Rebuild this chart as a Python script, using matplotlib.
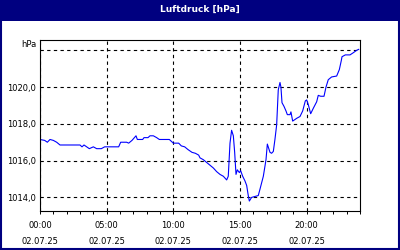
import matplotlib.pyplot as plt
from matplotlib.patches import Rectangle
from matplotlib.ticker import MultipleLocator

# Luftdruck 02.07.25 (hours since 00:00, hPa)
hours = [0.0, 0.35, 0.55, 0.75, 1.0, 1.25, 1.5, 3.0, 3.15, 3.3,
         3.5, 3.7, 4.0, 4.25, 4.6, 4.85, 5.9, 6.05, 6.5, 6.65,
         6.9, 7.2, 7.3, 7.7, 7.8, 8.1, 8.25, 8.5, 8.75, 8.95,
         9.7, 9.85, 10.0, 10.4, 10.6, 10.85, 11.1, 11.4, 11.65, 11.9,
         12.0, 12.25, 12.5, 12.75, 13.0, 13.25, 13.5, 13.75, 14.0, 14.12,
         14.25, 14.37, 14.5, 14.6, 14.7, 14.8, 14.95, 15.05, 15.2, 15.37,
         15.5, 15.62, 15.7, 15.87, 16.12, 16.37, 16.5, 16.75, 16.95, 17.05,
         17.25, 17.37, 17.5, 17.62, 17.75, 17.87, 18.0, 18.07, 18.15, 18.3,
         18.45, 18.55, 18.75, 18.82, 18.95, 19.25, 19.5, 19.7, 19.9, 20.0,
         20.12, 20.3, 20.5, 20.75, 20.87, 21.05, 21.3, 21.45, 21.62, 21.87,
         22.25, 22.45, 22.6, 22.65, 22.9, 23.25, 23.5, 23.75, 23.9]
pressure = [1017.15, 1017.1, 1017.0, 1017.15, 1017.1, 1017.0, 1016.85, 1016.85, 1016.75, 1016.85,
            1016.75, 1016.65, 1016.75, 1016.65, 1016.65, 1016.75, 1016.75, 1017.0, 1017.0, 1016.95,
            1017.1, 1017.35, 1017.15, 1017.15, 1017.25, 1017.25, 1017.35, 1017.35, 1017.25, 1017.15,
            1017.15, 1017.05, 1016.95, 1016.95, 1016.8, 1016.75, 1016.6, 1016.45, 1016.4, 1016.3,
            1016.15, 1016.05, 1015.9, 1015.75, 1015.6, 1015.4, 1015.25, 1015.15, 1014.95, 1015.15,
            1016.95, 1017.65, 1017.35, 1016.45, 1015.25, 1015.5, 1015.35, 1015.45, 1015.15, 1014.9,
            1014.65, 1014.1, 1013.8, 1014.0, 1014.05, 1014.1, 1014.45, 1015.15, 1016.05, 1016.9,
            1016.45, 1016.4, 1016.5, 1017.15, 1017.95, 1019.85, 1020.25, 1020.0, 1019.15, 1018.95,
            1018.7, 1018.5, 1018.5, 1018.65, 1018.15, 1018.3, 1018.4, 1018.7, 1019.25, 1019.3,
            1019.05, 1018.55, 1018.85, 1019.2, 1019.55, 1019.5, 1019.5, 1020.0, 1020.4, 1020.55,
            1020.6, 1020.95, 1021.45, 1021.65, 1021.75, 1021.75, 1021.87, 1022.0, 1022.05]

x_major = [0, 5, 10, 15, 20]
x_labels = ["00:00\n02.07.25", "05:00\n02.07.25", "10:00\n02.07.25",
            "15:00\n02.07.25", "20:00\n02.07.25"]
y_ticks = [1014, 1016, 1018, 1020, 1022]
y_labels = ["1014,0", "1016,0", "1018,0", "1020,0", ""]

navy = "#000080"
plt.rcParams['font.family'] = ['DejaVu Sans']

fig = plt.figure(figsize=(4, 2.5), dpi=100)
fig.patch.set_facecolor("white")

# title bar and frame
fig.patches.append(Rectangle((0, 1 - 21 / 250), 1, 21 / 250, transform=fig.transFigure,
                             facecolor=navy, edgecolor="none", zorder=0))
fig.patches.append(Rectangle((0.002, 0.004), 0.996, 0.99, transform=fig.transFigure,
                             facecolor="none", edgecolor=navy, lw=1.5, zorder=1))
fig.text(0.5, 1 - 9 / 250, "Luftdruck [hPa]", color="white", fontsize=6.5,
         fontweight="bold", ha="center", va="center")

ax = fig.add_axes([0.1, 39 / 250, 0.8, 171 / 250])
ax.plot(hours, pressure, color="#0000ff", lw=0.8)
ax.set_xlim(0, 24)
ax.set_ylim(1013.26, 1022.56)

ax.set_xticks(x_major)
ax.set_xticklabels(x_labels, fontsize=6)
ax.xaxis.set_minor_locator(MultipleLocator(1))
for lab in ax.get_xticklabels():
    lab.set_linespacing(2.0)
ax.set_yticks(y_ticks)
ax.set_yticklabels(y_labels, fontsize=6)

ax.tick_params(axis="x", which="both", direction="out", length=2.5, width=0.7, pad=5)
ax.tick_params(axis="y", length=0, pad=3)
ax.grid(True, which="major", color="black", linestyle=(0, (3, 3)), lw=0.8)
for s in ax.spines.values():
    s.set_linewidth(0.8)

fig.text(37 / 400, 1 - 45 / 250, "hPa", fontsize=6, ha="right", va="center")

fig.savefig("out.png", dpi=100)
